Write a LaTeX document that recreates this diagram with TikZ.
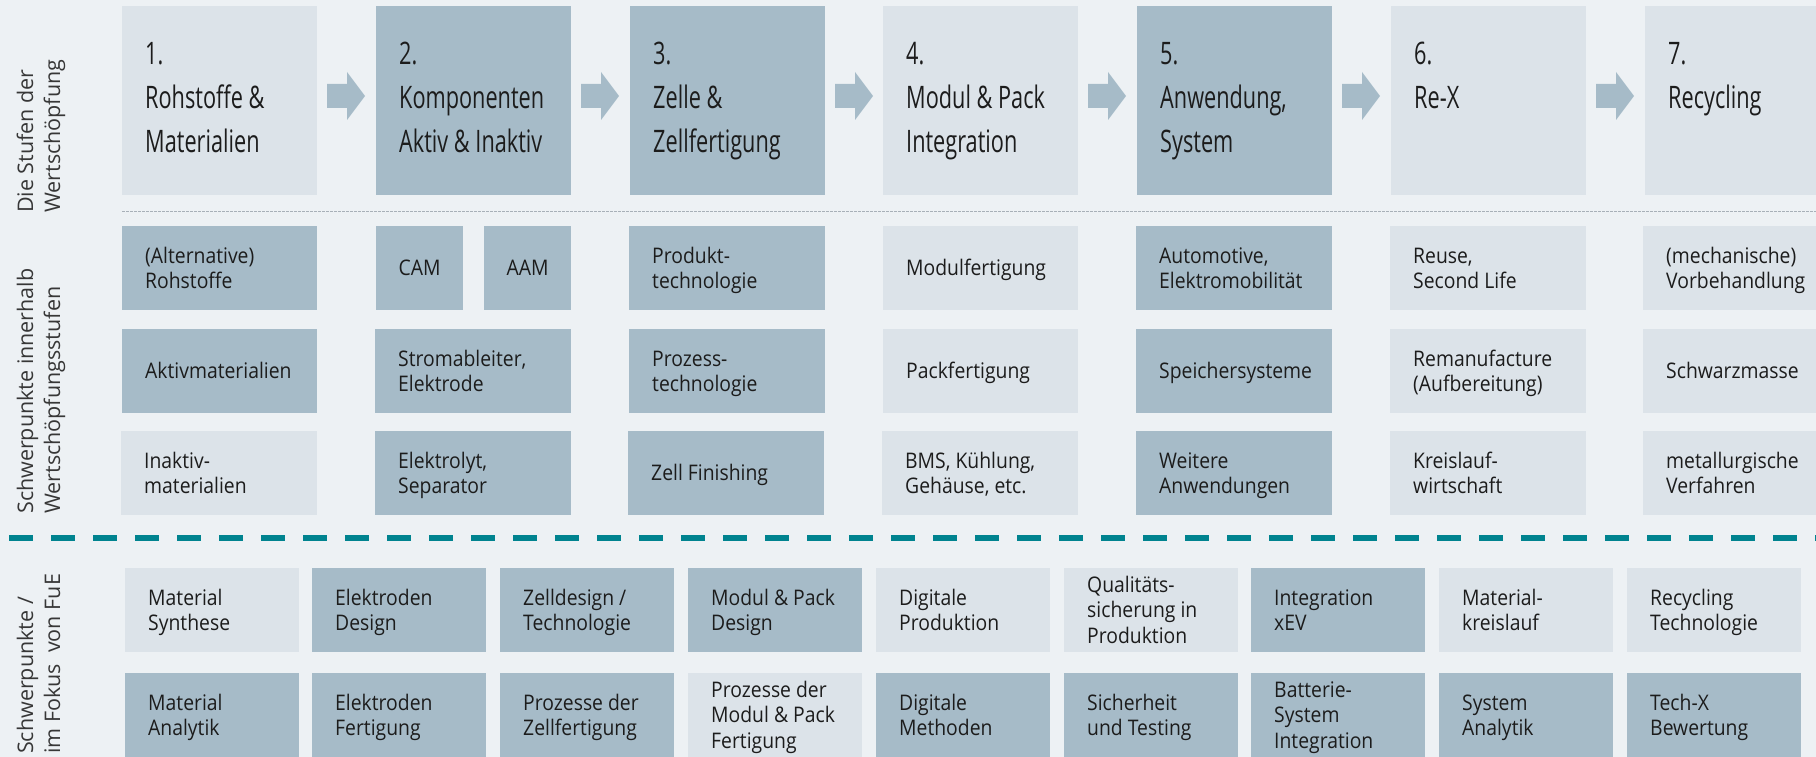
\documentclass[tikz,border=0pt]{standalone}
\usepackage{fontspec}
\setmainfont{Open Sans}
\newfontfamily\topfont[FakeStretch=0.70]{Open Sans}
\newfontfamily\boxfont[FakeStretch=0.90]{Open Sans}
\usetikzlibrary{calc}
\definecolor{bgc}{RGB}{237,241,244}
\definecolor{lightbox}{RGB}{220,227,233}
\definecolor{darkbox}{RGB}{166,187,200}
\definecolor{fueteal}{RGB}{0,131,143}
\definecolor{dotgray}{RGB}{168,176,184}
\definecolor{txtc}{RGB}{28,28,28}
\definecolor{lblc}{RGB}{55,55,55}
\newcommand\fs{\rule{0pt}{21.4pt}}
\newcommand\ls{\rule[-6pt]{0pt}{0pt}}
\newcommand\ft{\rule{0pt}{30pt}}
\tikzset{
  cellbox/.style={anchor=north west, minimum height=84, inner sep=0pt, outer sep=0pt, draw=none},
  lightc/.style={fill=lightbox},
  darkc/.style={fill=darkbox},
  celltext/.style={anchor=west, inner sep=0pt, align=left, text=txtc, font=\boxfont\fontsize{21.5}{25.3}\selectfont},
  toptext/.style={anchor=north west, inner sep=0pt, align=left, text=txtc, font=\topfont\fontsize{31}{44}\selectfont},
  lbl/.style={anchor=base west, rotate=90, inner sep=0pt, text=lblc, font=\fontsize{21.5}{25}\selectfont},
  arrowfill/.style={fill=darkbox},
  dotline/.style={draw=dotgray, line width=1pt, dash pattern=on 2.5pt off 1.5pt},
  fuedash/.style={draw=fueteal, line width=6.5pt, dash pattern=on 24pt off 18pt}
}
\newcommand\cell[6]{%
  \node[cellbox,#5,minimum width=#4] (#1) at (#2,#3) {};
  \node[celltext] (#1t) at ($(#1.west)+(23,0)$) {\fs#6\ls};
}
\newcommand\topcell[4]{%
  \node[cellbox,#3,minimum width=195,minimum height=189] (#1) at (#2,6) {};
  \node[toptext] (#1t) at ($(#1.north west)+(23,28)$) {\ft#4};
}
\newcommand\stepArrow[1]{%
  \fill[arrowfill] ($(#1.east)+(10,-4.5)$) ++(0,-12) -- ++(20,0) -- ++(0,-12)
    -- ++(18,24) -- ++(-18,24) -- ++(0,-12) -- ++(-20,0) -- cycle;
}
\begin{document}
\begin{tikzpicture}[x=1pt,y=-1pt]
\useasboundingbox (0,0) rectangle (1816,757);
\clip (0,0) rectangle (1816,757);
\fill[bgc] (0,0) rectangle (1816,757);

% side labels
\node[lbl] (l1a) at (33,213) {Die Stufen der};
\node[lbl] (l1b) at (60,213) {Wertschöpfung};
\node[lbl] (l2a) at (33,514) {Schwerpunkte innerhalb};
\node[lbl] (l2b) at (60,514) {Wertschöpfungsstufen};
\node[lbl] (l3a) at (33,754) {Schwerpunkte /};
\node[lbl] (l3b) at (60,754) {im Fokus\ \ von FuE};

% top row
\topcell{t1}{122}{lightc}{1.\\Rohstoffe \&\\Materialien}
\topcell{t2}{376}{darkc}{2.\\Komponenten\\Aktiv \& Inaktiv}
\topcell{t3}{630}{darkc}{3.\\Zelle \&\\Zellfertigung}
\topcell{t4}{883}{lightc}{4.\\Modul \& Pack\\Integration}
\topcell{t5}{1137}{darkc}{5.\\Anwendung,\\System}
\topcell{t6}{1391}{lightc}{6.\\Re-X}
\topcell{t7}{1645}{lightc}{7.\\Recycling}
\stepArrow{t1}
\stepArrow{t2}
\stepArrow{t3}
\stepArrow{t4}
\stepArrow{t5}
\stepArrow{t6}

\draw[dotline] (122,211) -- (1816,211);

% row A
\cell{a1}{122}{226}{195}{darkc}{(Alternative)\\Rohstoffe}
\node[cellbox,darkc,minimum width=87] (cam) at (376,226) {};
\node[celltext,anchor=center] (camt) at (cam.center) {\fs CAM\ls};
\node[cellbox,darkc,minimum width=87] (aam) at (484,226) {};
\node[celltext,anchor=center] (aamt) at (aam.center) {\fs AAM\ls};
\cell{a3}{629}{226}{196}{darkc}{Produkt-\\technologie}
\cell{a4}{883}{226}{195}{lightc}{Modulfertigung}
\cell{a5}{1136}{226}{196}{darkc}{Automotive,\\Elektromobilität}
\cell{a6}{1390}{226}{196}{lightc}{Reuse,\\Second Life}
\cell{a7}{1643}{226}{196}{lightc}{(mechanische)\\Vorbehandlung}

% row B
\cell{b1}{122}{329}{195}{darkc}{Aktivmaterialien}
\cell{b2}{375}{329}{196}{darkc}{Stromableiter,\\Elektrode}
\cell{b3}{629}{329}{196}{darkc}{Prozess-\\technologie}
\cell{b4}{883}{329}{195}{lightc}{Packfertigung}
\cell{b5}{1136}{329}{196}{darkc}{Speichersysteme}
\cell{b6}{1390}{329}{196}{lightc}{Remanufacture\\(Aufbereitung)}
\cell{b7}{1643}{329}{196}{lightc}{Schwarzmasse}

% row C
\cell{c1}{121}{431}{196}{lightc}{Inaktiv-\\materialien}
\cell{c2}{375}{431}{196}{darkc}{Elektrolyt,\\Separator}
\cell{c3}{628}{431}{196}{darkc}{Zell Finishing}
\cell{c4}{882}{431}{196}{lightc}{BMS, Kühlung,\\Gehäuse, etc.}
\cell{c5}{1136}{431}{196}{darkc}{Weitere\\Anwendungen}
\cell{c6}{1390}{431}{196}{lightc}{Kreislauf-\\wirtschaft}
\cell{c7}{1643}{431}{196}{lightc}{metallurgische\\Verfahren}

\draw[fuedash] (9,538) -- (1816,538);

% row D
\cell{d1}{125}{568}{174}{lightc}{Material\\Synthese}
\cell{d2}{312}{568}{174}{darkc}{Elektroden\\Design}
\cell{d3}{500}{568}{174}{darkc}{Zelldesign /\\Technologie}
\cell{d4}{688}{568}{174}{darkc}{Modul \& Pack\\Design}
\cell{d5}{876}{568}{174}{lightc}{Digitale\\Produktion}
\cell{d6}{1064}{568}{174}{lightc}{Qualitäts-\\sicherung in\\Produktion}
\cell{d7}{1251}{568}{174}{darkc}{Integration\\xEV}
\cell{d8}{1439}{568}{174}{lightc}{Material-\\kreislauf}
\cell{d9}{1627}{568}{174}{lightc}{Recycling\\Technologie}

% row E
\cell{e1}{125}{673}{174}{darkc}{Material\\Analytik}
\cell{e2}{312}{673}{174}{darkc}{Elektroden\\Fertigung}
\cell{e3}{500}{673}{174}{darkc}{Prozesse der\\Zellfertigung}
\cell{e4}{688}{673}{174}{lightc}{Prozesse der\\Modul \& Pack\\Fertigung}
\cell{e5}{876}{673}{174}{darkc}{Digitale\\Methoden}
\cell{e6}{1064}{673}{174}{darkc}{Sicherheit\\und Testing}
\cell{e7}{1251}{673}{174}{darkc}{Batterie-\\System\\Integration}
\cell{e8}{1439}{673}{174}{darkc}{System\\Analytik}
\cell{e9}{1627}{673}{174}{darkc}{Tech-X\\Bewertung}
\end{tikzpicture}
\end{document}
